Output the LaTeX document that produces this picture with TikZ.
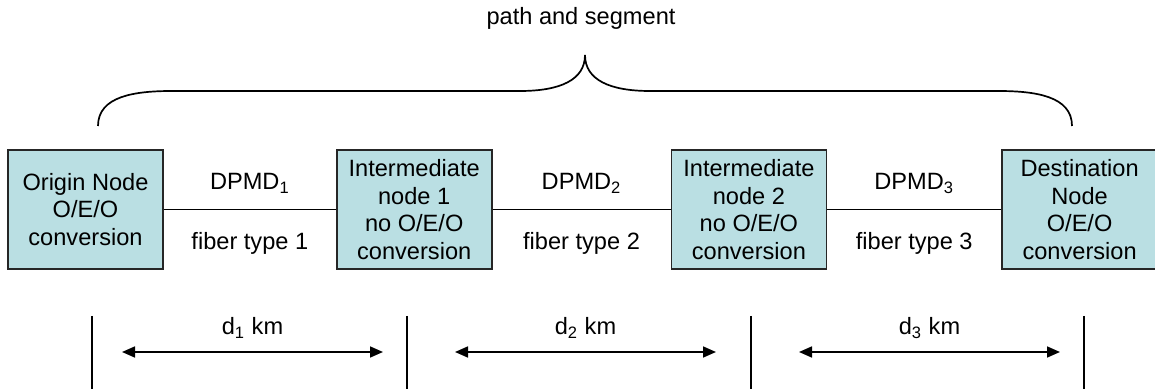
\documentclass[tikz,border=0pt]{standalone}
\usepackage{fontspec}
\setmainfont{Liberation Sans}
\usepackage{xcolor}
\usetikzlibrary{positioning,arrows.meta}
\definecolor{nodeblue}{RGB}{186,223,227}
\begin{document}
\begin{tikzpicture}[
    x=0.5pt, y=-0.5pt,
    font=\fontsize{11.8}{13.8}\selectfont,
    node distance=86pt,
    box/.style={rectangle, draw=black!85, fill=nodeblue, line width=0.85pt, minimum height=59.5pt, minimum width=77.5pt, inner sep=2pt, align=center},
    link/.style={line width=0.85pt},
    span/.style={{Triangle[length=6.5pt,width=5.5pt]}-{Triangle[length=6.5pt,width=5.5pt]}, line width=0.85pt},
    bar/.style={line width=0.85pt}
]
\useasboundingbox (0,0) rectangle (1155,389);

\node[box] (orig) at (85.5,209.5) {Origin Node\\O/E/O\\conversion};
\node[box, right=86pt of orig] (inter1) {Intermediate\\node 1\\no O/E/O\\conversion};
\node[box, right=89pt of inter1] (inter2) {Intermediate\\node 2\\no O/E/O\\conversion};
\node[box, right=87pt of inter2] (dest) {Destination\\Node\\O/E/O\\conversion};

\draw[link] (orig) -- (inter1) node[midway, yshift=13pt] {DPMD\textsubscript{1}} node[midway, yshift=-17pt] {fiber type 1};
\draw[link] (inter1) -- (inter2) node[midway, yshift=13pt] {DPMD\textsubscript{2}} node[midway, yshift=-17pt] {fiber type 2};
\draw[link] (inter2) -- (dest) node[midway, yshift=13pt] {DPMD\textsubscript{3}} node[midway, yshift=-17pt] {fiber type 3};

% brace over the whole path
\node (title) at (581,18) {path and segment};
\draw[line width=0.85pt] (98,126) .. controls (98,96) and (135,91) .. (172,91) -- (520,91)
    .. controls (560,91) and (585,80) .. (585,55)
    .. controls (585,80) and (610,91) .. (650,91) -- (998,91)
    .. controls (1035,91) and (1072,96) .. (1072,126);

% distance markers
\foreach \name/\xpos in {m0/92, m1/407, m2/751, m3/1084} {
    \coordinate (\name top) at (\xpos,316);
    \coordinate (\name bot) at (\xpos,389);
    \draw[bar] (\name top) -- (\name bot);
}
\coordinate (a1) at (122,352); \coordinate (b1) at (383,352);
\coordinate (a2) at (455,352); \coordinate (b2) at (716,352);
\coordinate (a3) at (799,352); \coordinate (b3) at (1060,352);
\draw[span] (a1) -- (b1) node[midway, yshift=12pt] {d\textsubscript{1} km};
\draw[span] (a2) -- (b2) node[midway, yshift=12pt] {d\textsubscript{2} km};
\draw[span] (a3) -- (b3) node[midway, yshift=12pt] {d\textsubscript{3} km};
\end{tikzpicture}
\end{document}
